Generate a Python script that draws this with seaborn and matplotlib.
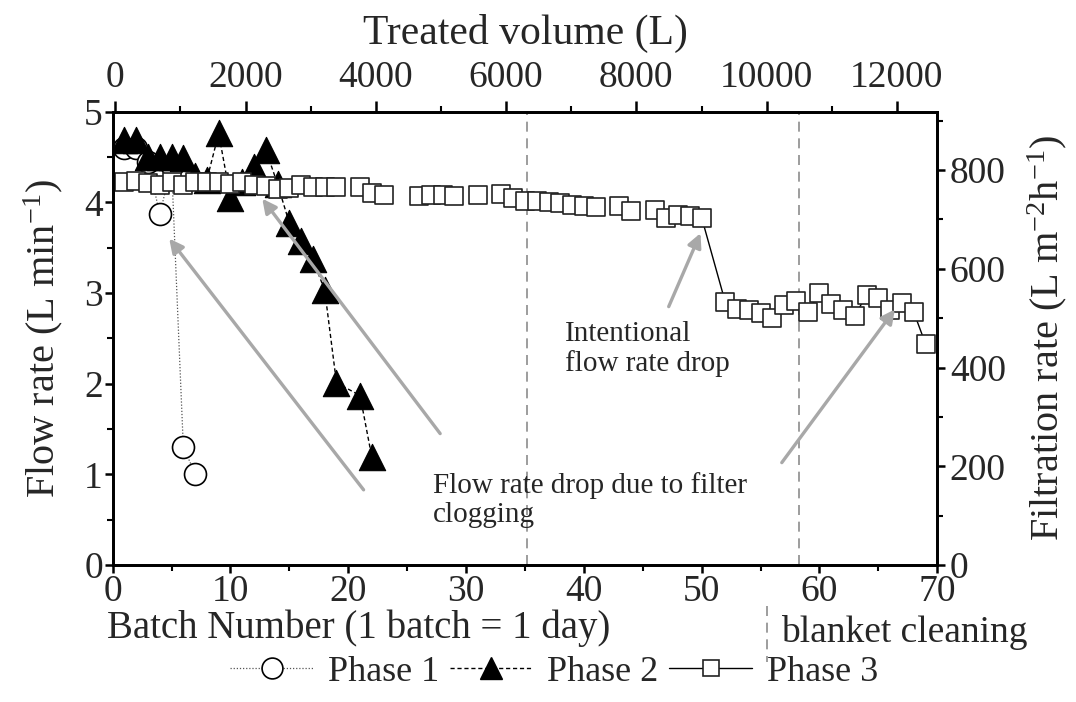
import numpy as np
import pandas as pd
import matplotlib
matplotlib.use("Agg")
import matplotlib.pyplot as plt
from matplotlib.lines import Line2D
from matplotlib.ticker import MultipleLocator
import seaborn as sns

# ---- data -------------------------------------------------------------
# Phase 1: flow rate (L/min) per batch
batch_p1 = [1, 2, 3, 4, 5, 6, 7]
flow_p1 = [4.60, 4.60, 4.45, 3.87, 4.40, 1.30, 1.01]

# Phase 2
batch_p2 = [1, 2, 3, 4, 5, 6, 7, 8, 9, 10, 11, 12, 13, 14, 15, 16, 17, 18, 19, 21, 22]
flow_p2 = [4.69, 4.69, 4.50, 4.50, 4.50, 4.49, 4.29, 4.25, 4.76, 4.05, 4.22,
           4.39, 4.58, 4.20, 3.77, 3.57, 3.37, 3.03, 2.01, 1.87, 1.19]

# Phase 3 (NaN = no measurement, breaks the connecting line)
batch_p3 = list(range(1, 51)) + list(range(52, 70))
flow_p3 = [4.22, 4.24, 4.21, 4.19, 4.22, 4.19, 4.22, 4.22, 4.22, 4.20,
           4.22, 4.19, 4.18, 4.15, 4.16, 4.19, 4.17, 4.17, 4.17, np.nan,
           4.17, 4.10, 4.08, np.nan, np.nan, 4.07, 4.08, 4.08, 4.07, np.nan,
           4.08, np.nan, 4.09, 4.05, 4.01, 4.01, 4.00, 3.99, 3.97, 3.96,
           3.95, np.nan, 3.96, 3.90, np.nan, 3.91, 3.83, 3.86, 3.85, 3.83,
           2.90, 2.82, 2.81, 2.78, 2.73, 2.87, 2.91, 2.79, 3.00, 2.88,
           2.81, 2.75, 2.98, 2.95, 2.81, 2.89, 2.79, 2.44]

# blanket cleaning events (batch number)
cleaning_batches = [35.2, 58.3]

# axis ranges
flow_lim = (0, 5)
batch_lim = (0, 70)
volume_lim = (-40, 12620)
filtration_lim = (0, 918)

# ---- style ------------------------------------------------------------
sns.set_theme(style="ticks")
plt.rcParams["font.family"] = ["Liberation Serif", "DejaVu Serif"]
plt.rcParams["mathtext.fontset"] = "custom"
plt.rcParams["mathtext.rm"] = "Liberation Serif"
plt.rcParams["mathtext.it"] = "Liberation Serif:italic"
plt.rcParams["axes.linewidth"] = 1.8

TICK_FS = 27
LABEL_FS = 29
NOTE_FS = 21

fig = plt.figure(figsize=(10.76, 7.02), dpi=100)
ax = fig.add_axes([0.1047, 0.195, 0.7664, 0.646])
ax.set_facecolor("white")


def frame(values, batches):
    df = pd.DataFrame({"batch": batches, "flow": values})
    df["seg"] = df["flow"].isna().cumsum()
    return df.dropna()


d1 = frame(flow_p1, batch_p1)
d2 = frame(flow_p2, batch_p2)
d3 = frame(flow_p3, batch_p3)

# connecting lines
sns.lineplot(data=d1, x="batch", y="flow", units="seg", estimator=None, sort=False,
             color="#555555", lw=0.9, linestyle=(0, (1, 1.5)), ax=ax, legend=False, zorder=2)
sns.lineplot(data=d2, x="batch", y="flow", units="seg", estimator=None, sort=False,
             color="black", lw=1.0, linestyle=(0, (3, 2)), ax=ax, legend=False, zorder=2)
sns.lineplot(data=d3, x="batch", y="flow", units="seg", estimator=None, sort=False,
             color="black", lw=1.0, ax=ax, legend=False, zorder=2)

# markers
sns.scatterplot(data=d1, x="batch", y="flow", marker="o", s=250, facecolor="white",
                edgecolor="black", linewidth=1.2, ax=ax, legend=False, zorder=3)
sns.scatterplot(data=d2, x="batch", y="flow", marker="^", s=360, color="black",
                edgecolor="black", linewidth=0.8, ax=ax, legend=False, zorder=4)
sns.scatterplot(data=d3, x="batch", y="flow", marker="s", s=165, facecolor="white",
                edgecolor="#222222", linewidth=1.2, ax=ax, legend=False, zorder=5)

for b in cleaning_batches:
    ax.axvline(b, color="#8c8c8c", lw=1.2, ls=(0, (6, 4)), zorder=1)

ax.set_xlim(*batch_lim)
ax.set_ylim(*flow_lim)
ax.xaxis.set_major_locator(MultipleLocator(10))
ax.xaxis.set_minor_locator(MultipleLocator(5))
ax.yaxis.set_major_locator(MultipleLocator(1))
ax.yaxis.set_minor_locator(MultipleLocator(0.5))
ax.set_xlabel("")
ax.set_ylabel("Flow rate (L min$^{-1}$)", fontsize=LABEL_FS, labelpad=14)

# right axis: filtration rate
ax2 = ax.twinx()
ax2.set_ylim(*filtration_lim)
ax2.yaxis.set_major_locator(MultipleLocator(200))
ax2.yaxis.set_minor_locator(MultipleLocator(100))
ax2.set_ylabel("Filtration rate (L m$^{-2}$h$^{-1}$)", fontsize=LABEL_FS, labelpad=14)

# top axis: treated volume
ax3 = ax.twiny()
ax3.set_xlim(*volume_lim)
ax3.xaxis.set_major_locator(MultipleLocator(2000))
ax3.xaxis.set_minor_locator(MultipleLocator(1000))
ax3.set_xlabel("Treated volume (L)", fontsize=30, labelpad=12)

for a in (ax, ax2, ax3):
    for sp in a.spines.values():
        sp.set_visible(True)
        sp.set_linewidth(1.8)
        sp.set_color("black")
    a.tick_params(which="major", direction="out", length=6, width=1.8,
                  labelsize=TICK_FS, pad=1, color="black")
    a.tick_params(which="minor", direction="out", length=4, width=1.5, color="black")
ax3.tick_params(which="major", length=8, pad=4)
ax2.tick_params(which="major", pad=3)
ax.tick_params(top=False, right=False)
ax.tick_params(axis="y", which="both", left=True)
ax.tick_params(axis="x", which="both", bottom=True)

# annotations
arrow_kw = dict(arrowstyle="-|>,head_length=0.7,head_width=0.35", color="#a8a8a8",
                lw=2.4, shrinkA=0, shrinkB=0)
ax.annotate("", xy=(4.8, 3.60), xytext=(21.3, 0.83), arrowprops=arrow_kw, zorder=6)
ax.annotate("", xy=(12.7, 4.04), xytext=(27.8, 1.45), arrowprops=arrow_kw, zorder=6)
ax.annotate("", xy=(49.9, 3.66), xytext=(47.2, 2.85), arrowprops=arrow_kw, zorder=6)
ax.annotate("", xy=(66.4, 2.82), xytext=(56.8, 1.13), arrowprops=arrow_kw, zorder=6)

ax.text(38.4, 2.38, "Intentional\nflow rate drop", fontsize=NOTE_FS,
        ha="left", va="center", linespacing=1.15, zorder=7)
ax.text(27.2, 0.72, "Flow rate drop due to filter\nclogging", fontsize=NOTE_FS,
        ha="left", va="center", linespacing=1.15, zorder=7)

# bottom caption and cleaning key
fig.text(107 / 1076, 1 - 628 / 702, "Batch Number (1 batch = 1 day)",
         fontsize=28, ha="left", va="center")
fig.text(781 / 1076, 1 - 632 / 702, "blanket cleaning",
         fontsize=27, ha="left", va="center")
fig.add_artist(Line2D([767 / 1076, 767 / 1076], [1 - 606 / 702, 1 - 662 / 702],
                      transform=fig.transFigure, color="#8c8c8c", lw=1.2,
                      ls=(0, (6, 4))))

handles = [
    Line2D([], [], color="#555555", lw=0.9, ls=(0, (1, 1.5)), marker="o", ms=15,
           mfc="white", mec="black", mew=1.2),
    Line2D([], [], color="black", lw=1.0, ls=(0, (3, 2)), marker="^", ms=16,
           mfc="black", mec="black"),
    Line2D([], [], color="black", lw=1.0, marker="s", ms=11,
           mfc="white", mec="#222222", mew=1.2),
]
fig.legend(handles, ["Phase 1", "Phase 2", "Phase 3"], loc="center",
           bbox_to_anchor=(0.515, 1 - 672 / 702), ncol=3, frameon=False,
           fontsize=26, handlelength=2.3, handletextpad=0.4, columnspacing=0.3,
           borderpad=0)

fig.savefig("out.png", dpi=100, facecolor="white")
